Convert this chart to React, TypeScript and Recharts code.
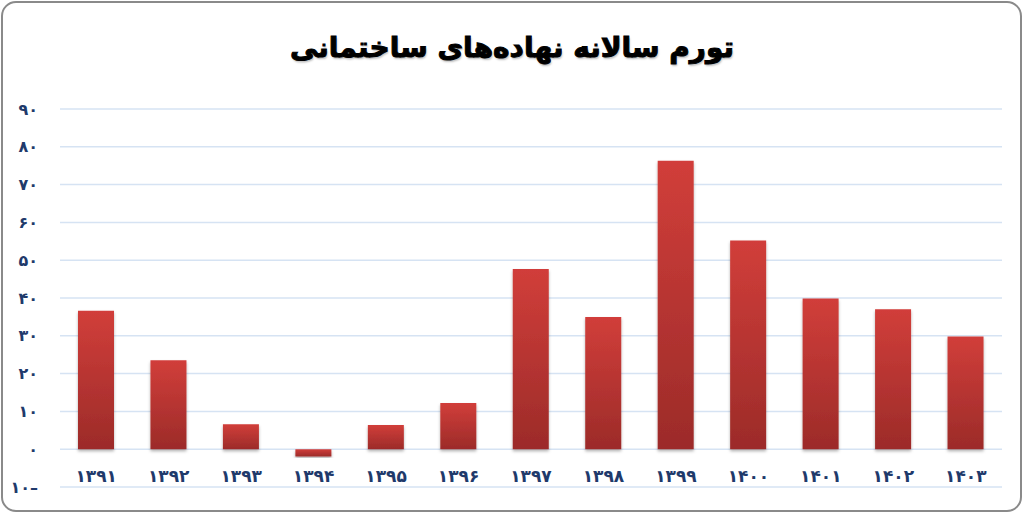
import { Bar, BarChart, CartesianGrid, XAxis, YAxis } from "recharts";

const years = ["1391", "1392", "1393", "1394", "1395", "1396", "1397", "1398", "1399", "1400", "1401", "1402", "1403"];
const inflation = [36.6, 23.5, 6.6, -1.9, 6.4, 12.2, 47.7, 35.0, 76.3, 55.2, 39.9, 37.0, 29.8];
const yTicks = [-10, 0, 10, 20, 30, 40, 50, 60, 70, 80, 90];
const title = "تورم سالانه نهاده‌های ساختمانی";

const faDigits = "۰۱۲۳۴۵۶۷۸۹";
const toFa = (s: string) => s.replace(/[0-9]/g, (d) => faDigits[Number(d)]);
const fmtY = (v: number) => (v < 0 ? toFa(String(-v)) + "–" : toFa(String(v)));

const data = years.map((year, i) => ({ year, value: inflation[i] }));

const labelColor = "#1f3a6b";

function YearTick(props: any) {
  const { x, y, payload } = props;
  return (
    <text
      x={x}
      y={y - 13}
      textAnchor="middle"
      fill={labelColor}
      fontSize={17}
      fontWeight="bold"
      fontFamily="DejaVu Sans"
      letterSpacing={2}
    >
      {toFa(payload.value)}
    </text>
  );
}

export default function App() {
  return (
    <div style={{ position: "relative", width: 1024, height: 514, background: "#fff" }}>
      <style>{`body{margin:0}`}</style>
      <div
        style={{
          position: "absolute",
          left: 1,
          top: 1,
          width: 1017,
          height: 507,
          border: "2px solid #8a8a8a",
          borderRadius: 15,
        }}
      />
      <div
        style={{
          position: "absolute",
          top: 31,
          left: 0,
          width: 1024,
          textAlign: "center",
          fontFamily: "DejaVu Sans",
          fontWeight: "bold",
          fontSize: 28,
          color: "#000",
          direction: "rtl",
          WebkitTextStroke: "1px #000",
          textShadow: "1px 2px 2px rgba(0,0,0,0.25)",
        }}
      >
        {title}
      </div>
      <div style={{ position: "absolute", left: 0, top: 0 }}>
        <BarChart
          width={1024}
          height={514}
          data={data}
          margin={{ top: 109, right: 22, bottom: 0, left: 0 }}
          barCategoryGap="25%"
        >
          <defs>
            <linearGradient id="barFill" x1="0" y1="0" x2="0" y2="1">
              <stop offset="0%" stopColor="#d13e3a" />
              <stop offset="100%" stopColor="#9c2b29" />
            </linearGradient>
            <filter id="barShadow" x="-20%" y="-20%" width="140%" height="140%">
              <feDropShadow dx="0" dy="2" stdDeviation="1.5" floodColor="#000" floodOpacity="0.3" />
            </filter>
          </defs>
          <CartesianGrid vertical={false} stroke="#d6e3f3" strokeWidth={1.5} />
          <XAxis
            dataKey="year"
            height={27}
            axisLine={false}
            tickLine={false}
            interval={0}
            tick={<YearTick />}
          />
          <YAxis
            width={60}
            domain={[-10, 90]}
            ticks={yTicks}
            interval={0}
            axisLine={false}
            tickLine={false}
            tickSize={0}
            tickMargin={22}
            tickFormatter={fmtY}
            tick={{ fill: labelColor, fontSize: 16, fontWeight: "bold", fontFamily: "DejaVu Sans" }}
          />
          <Bar
            dataKey="value"
            fill="url(#barFill)"
            barSize={36}
            filter="url(#barShadow)"
            isAnimationActive={false}
          />
        </BarChart>
      </div>
    </div>
  );
}
